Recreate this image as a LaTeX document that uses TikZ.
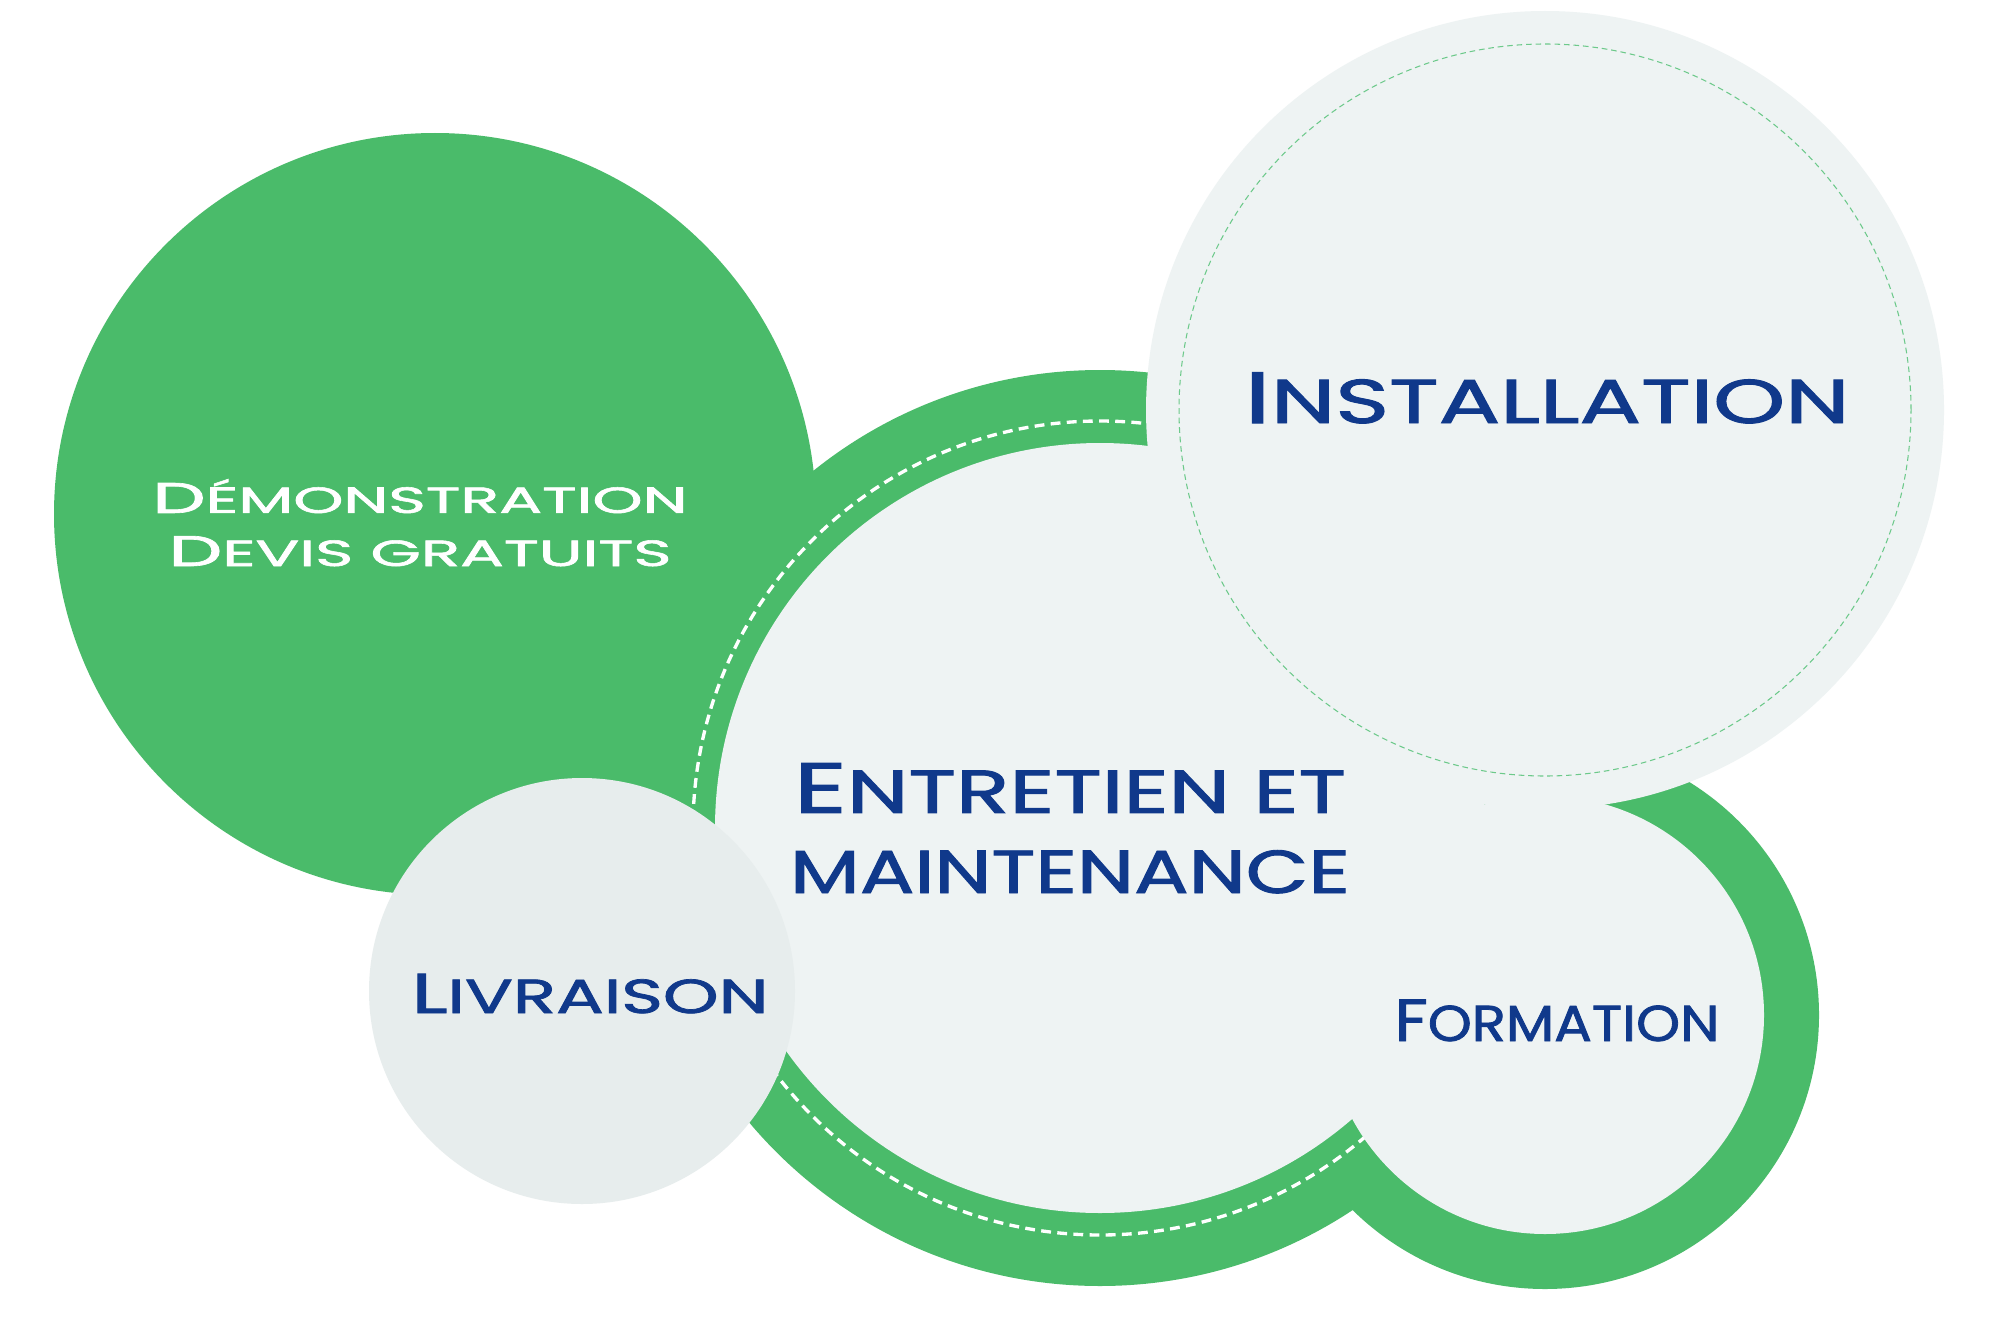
\documentclass[tikz,border=0pt]{standalone}
\usepackage{fontspec}
\setmainfont{Poppins}[FakeBold=1.5]
\usepackage{graphicx}
\usetikzlibrary{positioning}

\definecolor{leafgreen}{HTML}{4ABB6A}
\definecolor{paleblue}{HTML}{EEF3F3}
\definecolor{palegrey}{HTML}{E7EDED}
\definecolor{navyblue}{HTML}{10398B}
\definecolor{dashgreen}{HTML}{6CC98A}

% first letter at full size, the rest as small capitals
\newcommand{\capsword}[3]{%
  {\fontsize{#1}{#1}\selectfont\MakeUppercase{#2}}%
  {\pgfmathsetmacro\smallsz{0.85*#1}\fontsize{\smallsz}{\smallsz}\selectfont\MakeUppercase{#3}}}
\newcommand{\fitline}[2]{\resizebox{#1}{\height}{#2}}

\begin{document}
\begin{tikzpicture}[
    x=0.1mm, y=-0.1mm,
    disc/.style={circle, inner sep=0pt, outer sep=0pt},
    greendisc/.style={disc, fill=leafgreen},
    paledisc/.style={disc, fill=paleblue},
    greydisc/.style={disc, fill=palegrey},
    ringdash/.style={draw=white, line width=0.95pt, dash pattern=on 2.8pt off 1.8pt},
    thindash/.style={draw=dashgreen, line width=0.3pt, dash pattern=on 1.6pt off 1.1pt},
    caption/.style={inner sep=0pt, outer sep=0pt, text=navyblue, align=center, anchor=base},
    whitecaption/.style={caption, text=white}
]
% Background
\fill[white] (0,0) rectangle (1994,1327);

% Green discs
\node[greendisc, minimum size=76.2mm] (demo) at (435,514) {};
\node[greendisc, minimum size=91.6mm] (entretien-ring) at (1100,828) {};
\node[greendisc, minimum size=54.8mm] (formation-ring) at (1545,1015) {};
\draw[ringdash] (entretien-ring.center) circle[radius=40.7mm];

% Pale discs
\node[paledisc, minimum size=77mm] (entretien) at (entretien-ring) {};
\node[paledisc, minimum size=43.8mm] (formation) at (formation-ring) {};
\node[paledisc, minimum size=79.8mm] (installation) at (1545,410) {};
\draw[thindash] (installation.center) circle[radius=36.6mm];
\node[greydisc, minimum size=42.6mm] (livraison) at (582,991) {};

% Labels (base = last line)
\node[whitecaption, font=\fontsize{12.2}{15.1pt}\selectfont] (demo-text) at (420,566)
    {\fitline{53.5mm}{\capsword{12.2}{D}{émonstration}}\\
     \fitline{50.3mm}{\capsword{12.2}{D}{evis gratuits}}};
\node[caption] (installation-text) at (1547,423)
    {\fitline{60.5mm}{\capsword{20.7}{I}{nstallation}}};
\node[caption, font=\fontsize{20.3}{22.8pt}\selectfont] (entretien-text) at (1070,893)
    {\fitline{55.2mm}{\capsword{20.3}{E}{ntretien et}}\\
     \fitline{56mm}{\capsword{20.3}{}{maintenance}}};
\node[caption] (formation-text) at (1557,1041)
    {\fitline{32.5mm}{\capsword{16.9}{F}{ormation}}};
\node[caption] (livraison-text) at (590,1013)
    {\fitline{35.7mm}{\capsword{16}{L}{ivraison}}};

\end{tikzpicture}
\end{document}
